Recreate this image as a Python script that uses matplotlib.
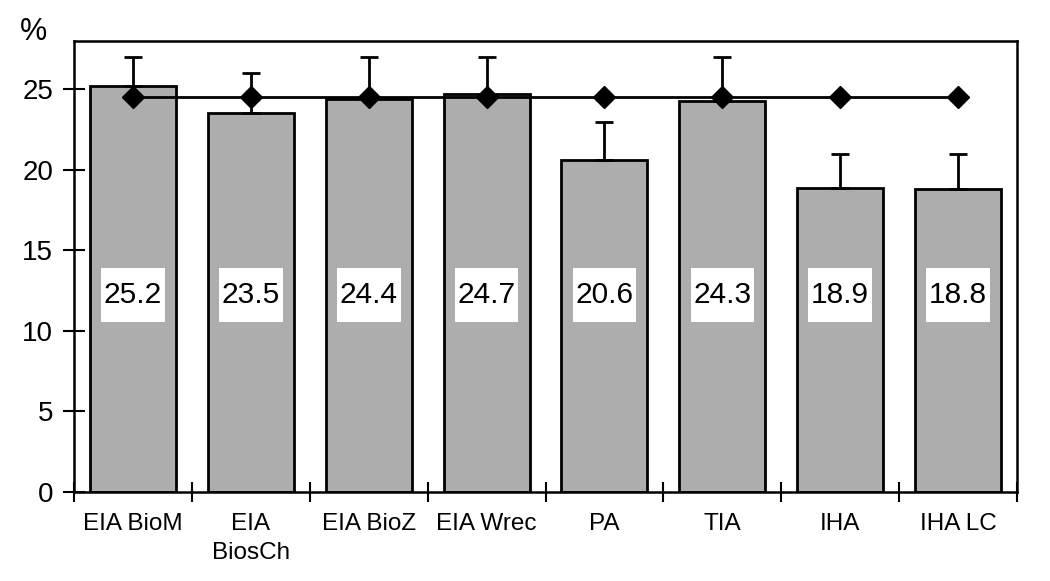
import matplotlib.pyplot as plt
from matplotlib.patches import Rectangle
import numpy as np

plt.rcParams['font.family'] = ['Liberation Sans', 'DejaVu Sans']

# data
categories = ['EIA BioM', 'EIA\nBiosCh', 'EIA BioZ', 'EIA Wrec', 'PA', 'TIA', 'IHA', 'IHA LC']
values = [25.2, 23.5, 24.4, 24.7, 20.6, 24.3, 18.9, 18.8]
err_up = [1.8, 2.5, 2.6, 2.3, 2.4, 2.7, 2.1, 2.2]
reference = [24.5, 24.5, 24.5, 24.5, 24.5, 24.5, 24.5, 24.5]
labels = ['25.2', '23.5', '24.4', '24.7', '20.6', '24.3', '18.9', '18.8']
yticks = [0, 5, 10, 15, 20, 25]

fig = plt.figure(figsize=(10.5, 5.81), dpi=100)
ax = fig.add_axes([0.0705, 0.1532, 0.8981, 0.7762])

x = np.arange(len(categories))
ax.bar(x, values, width=0.73, color='#adadad', edgecolor='black', linewidth=2, zorder=2)
ax.errorbar(x, values, yerr=[np.zeros(len(values)), err_up], fmt='none',
            ecolor='black', elinewidth=2, capsize=6.5, capthick=2, zorder=3)
ax.plot(x, reference, color='black', lw=2, marker='D', markersize=11, zorder=4)

# value boxes in the middle of the bars
for xi, lab in zip(x, labels):
    ax.add_patch(Rectangle((xi - 0.27, 12.2 - 1.67), 0.54, 3.35,
                           facecolor='white', edgecolor='none', zorder=5))
    ax.text(xi, 12.2, lab, ha='center', va='center', fontsize=21.5, zorder=6)

ax.set_xlim(-0.5, len(categories) - 0.5)
ax.set_ylim(0, 28)
ax.set_yticks(yticks)
ax.set_xticks(np.arange(len(categories) + 1) - 0.5, minor=False)
ax.set_xticklabels([''] * (len(categories) + 1))
ax.set_xticks(x, minor=True)
ax.set_xticklabels(categories, minor=True, fontsize=17.5, linespacing=1.45, va='top')
ax.tick_params(axis='x', which='minor', length=0, pad=15)
ax.tick_params(axis='x', which='major', direction='inout', length=15, width=1.5)
ax.tick_params(axis='y', direction='inout', length=16, width=1.5, labelsize=20, pad=7)

for s in ax.spines.values():
    s.set_linewidth(1.8)

fig.text(0.032, 0.945, '%', fontsize=22, ha='center', va='center')

fig.savefig('out.png', dpi=100)
